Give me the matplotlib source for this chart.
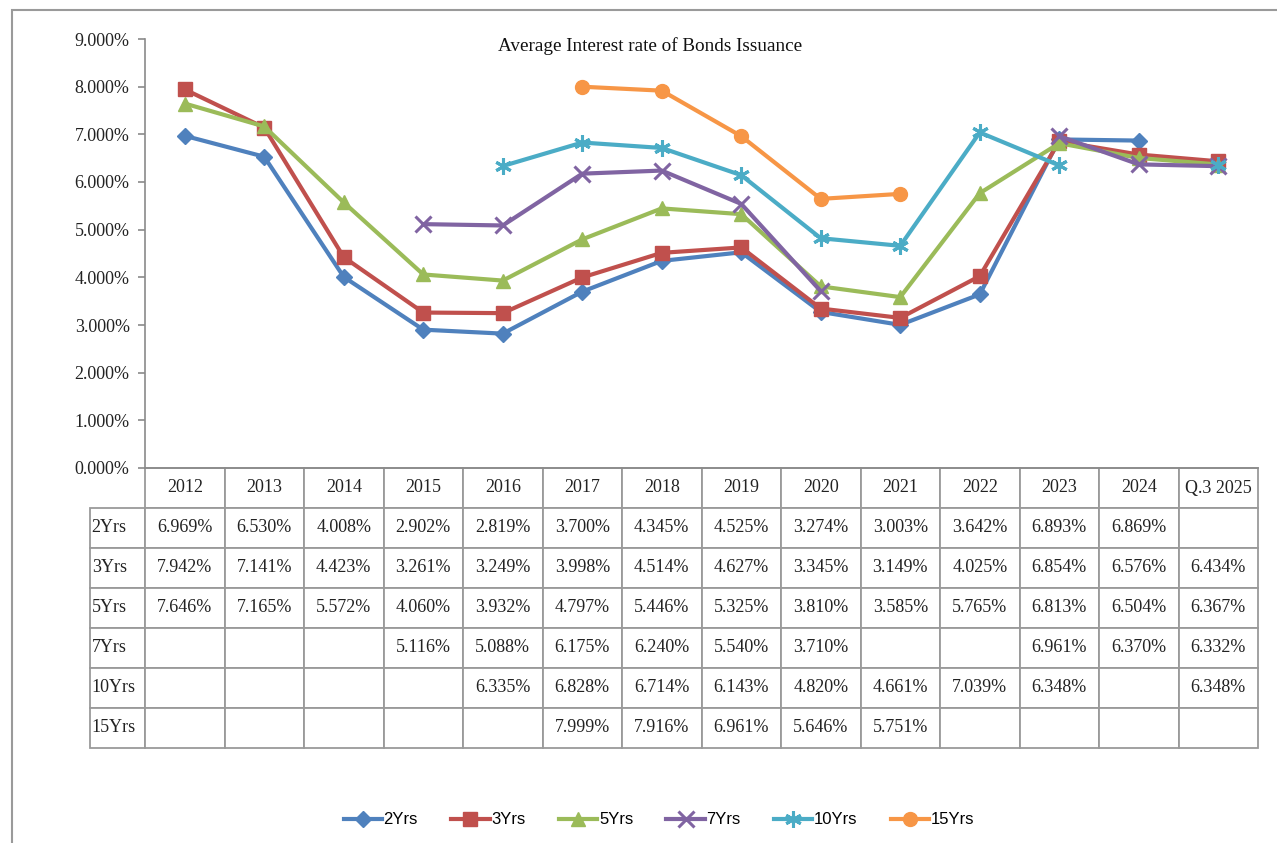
import numpy as np
import matplotlib
matplotlib.use("Agg")
import matplotlib.pyplot as plt
from matplotlib.patches import Rectangle
from matplotlib.table import Table
from matplotlib.ticker import PercentFormatter, MultipleLocator

# Data (average interest rate, %)
years = ["2012", "2013", "2014", "2015", "2016", "2017", "2018",
         "2019", "2020", "2021", "2022", "2023", "2024", "Q.3 2025"]
nan = np.nan
y2 = [6.969, 6.530, 4.008, 2.902, 2.819, 3.700, 4.345, 4.525, 3.274, 3.003, 3.642, 6.893, 6.869, nan]
y3 = [7.942, 7.141, 4.423, 3.261, 3.249, 3.998, 4.514, 4.627, 3.345, 3.149, 4.025, 6.854, 6.576, 6.434]
y5 = [7.646, 7.165, 5.572, 4.060, 3.932, 4.797, 5.446, 5.325, 3.810, 3.585, 5.765, 6.813, 6.504, 6.367]
y7 = [nan, nan, nan, 5.116, 5.088, 6.175, 6.240, 5.540, 3.710, nan, nan, 6.961, 6.370, 6.332]
y10 = [nan, nan, nan, nan, 6.335, 6.828, 6.714, 6.143, 4.820, 4.661, 7.039, 6.348, nan, 6.348]
y15 = [nan, nan, nan, nan, nan, 7.999, 7.916, 6.961, 5.646, 5.751, nan, nan, nan, nan]

series_names = ["2Yrs", "3Yrs", "5Yrs", "7Yrs", "10Yrs", "15Yrs"]
series_vals = [y2, y3, y5, y7, y10, y15]
colors = ["#4F81BD", "#C0504D", "#9BBB59", "#8064A2", "#4BACC6", "#F79646"]
markers = ["D", "s", "^", "x", (6, 2, 0), "o"]
msizes = [8, 10, 10, 11, 12, 10]

W, H = 1277, 843
fig = plt.figure(figsize=(W / 100, H / 100), dpi=100)
fig.patch.set_facecolor("white")

serif = ["Liberation Serif", "DejaVu Serif"]
narrow = ["Liberation Sans Narrow", "Liberation Sans", "DejaVu Sans"]

# outer chart frame (partly cut off on right/bottom)
fig.patches.append(Rectangle((12 / W, -0.05), 1.2, 1 - 10 / H + 0.05,
                             transform=fig.transFigure, facecolor="none",
                             edgecolor="#9a9a9a", linewidth=1.5, zorder=0))

ax_l, ax_r, ax_t, ax_b = 145, 1258, 39, 468
ax = fig.add_axes([ax_l / W, 1 - ax_b / H, (ax_r - ax_l) / W, (ax_b - ax_t) / H])

x = np.arange(len(years))
for name, vals, c, m, ms in zip(series_names, series_vals, colors, markers, msizes):
    ax.plot(x, vals, color=c, lw=3, marker=m, markersize=ms,
            markeredgewidth=2.2 if m in ("x",) or isinstance(m, tuple) else 1,
            markerfacecolor=c, markeredgecolor=c, label=name,
            solid_joinstyle="round")

ax.set_xlim(-0.5, len(years) - 0.5)
ax.set_ylim(0, 9)
ax.yaxis.set_major_locator(MultipleLocator(1))
ax.yaxis.set_major_formatter(PercentFormatter(xmax=100, decimals=3))
ax.set_xticks([])
for s in ("top", "right"):
    ax.spines[s].set_visible(False)
ax.spines["left"].set_color("#8a8a8a")
ax.spines["bottom"].set_color("#8a8a8a")
ax.spines["left"].set_linewidth(1.2)
ax.spines["bottom"].set_linewidth(1.2)
ax.tick_params(axis="y", length=5, width=1.2, color="#8a8a8a", pad=6)
for lab in ax.get_yticklabels():
    lab.set_fontfamily(serif)
    lab.set_fontsize(13)
    lab.set_color("#222222")

# data table under the plot; bbox covers the data columns only
row_h_px = 40
label_w_px = 55
tbl_h = 7 * row_h_px / (ax_b - ax_t)
lab_w = label_w_px / (ax_r - ax_l)
tbl = Table(ax, bbox=[0, -tbl_h, 1, tbl_h])
col_w = 1 / len(years)
edge = "#9a9a9a"
for j, yr in enumerate(years):
    tbl.add_cell(0, j, col_w, 1, text=yr, loc="center", edgecolor=edge)
for i, (name, vals) in enumerate(zip(series_names, series_vals), start=1):
    tbl.add_cell(i, -1, lab_w, 1, text=name, loc="left", edgecolor=edge)
    for j, v in enumerate(vals):
        txt = "" if np.isnan(v) else f"{v:.3f}%"
        tbl.add_cell(i, j, col_w, 1, text=txt, loc="center", edgecolor=edge)
tbl.auto_set_font_size(False)
for (r, c), cell in tbl.get_celld().items():
    cell.set_linewidth(1.3)
    cell.get_text().set_fontfamily(serif)
    cell.get_text().set_fontsize(13)
    cell.get_text().set_color("#222222")
    if c == -1:
        cell.PAD = 0.03
ax.add_table(tbl)

fig.text(650 / W, 1 - 46 / H, "Average Interest rate of Bonds Issuance",
         ha="center", va="center", fontfamily=serif, fontsize=13.8, color="#111111")

fig.legend(*ax.get_legend_handles_labels(), loc="center", ncol=6,
           bbox_to_anchor=(659 / W, 1 - 820 / H), frameon=False,
           prop={"family": narrow, "size": 12}, handlelength=2.3,
           handletextpad=0.1, columnspacing=2.0)

fig.savefig("out.png", dpi=100)
